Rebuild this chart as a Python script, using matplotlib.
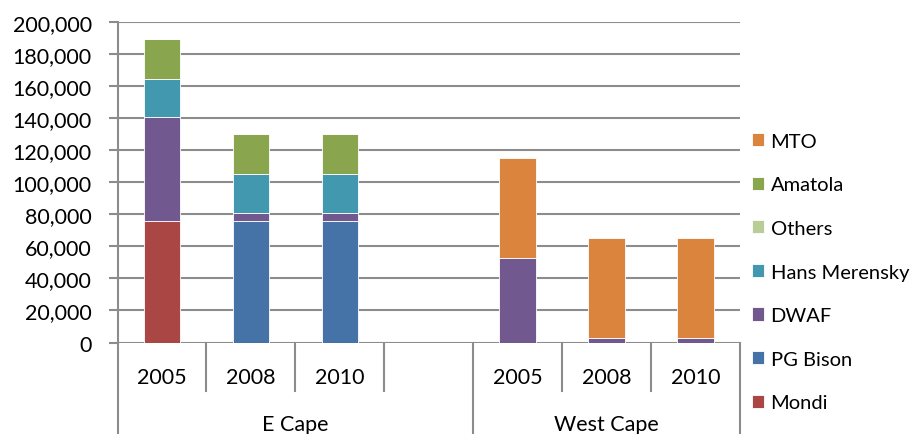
import matplotlib
matplotlib.use("Agg")
import matplotlib.pyplot as plt
import matplotlib.transforms as mtransforms
from matplotlib.ticker import FuncFormatter

plt.rcParams['font.family'] = ['Lato', 'DejaVu Sans']

years = ["2005", "2008", "2010", "", "2005", "2008", "2010"]
groups = ["E Cape", "West Cape"]
series_names = ["Mondi", "PG Bison", "DWAF", "Hans Merensky", "Others", "Amatola", "MTO"]
mondi = [76000, 0, 0, 0, 0, 0, 0]
pg_bison = [0, 76000, 76000, 0, 0, 0, 0]
dwaf = [65000, 5000, 5000, 0, 53000, 3000, 3000]
hans_merensky = [23500, 24000, 24000, 0, 0, 0, 0]
others = [0, 0, 0, 0, 0, 0, 0]
amatola = [25000, 25000, 25000, 0, 0, 0, 0]
mto = [0, 0, 0, 0, 62000, 62000, 62000]
series = [mondi, pg_bison, dwaf, hans_merensky, others, amatola, mto]
colors = ["#AA4643", "#4572A7", "#71588F", "#4198AF", "#B9CD96", "#89A54E", "#DB843D"]

W, H = 914, 435
fig = plt.figure(figsize=(W / 100, H / 100), dpi=100)
ax = fig.add_axes([117.5 / W, 1 - 343.5 / H, (740 - 117.5) / W, (343.5 - 23) / H])

x = list(range(len(years)))
bottom = [0] * len(years)
handles = []
for name, vals, c in zip(series_names, series, colors):
    b = ax.bar(x, vals, width=0.41, bottom=bottom, color=c, edgecolor="white",
               linewidth=0.6, label=name, zorder=3)
    handles.append(b)
    bottom = [bb + v for bb, v in zip(bottom, vals)]

ax.set_xlim(-0.5, len(years) - 0.5)
ax.set_ylim(0, 200000)
ax.set_yticks(range(0, 200001, 20000))
ax.yaxis.set_major_formatter(FuncFormatter(lambda v, p: f"{int(v):,}"))
ax.tick_params(axis='y', length=6.5, width=1.5, color="#8c8c8c", pad=12,
               labelsize=15.5, labelcolor="black")
ax.set_xticks([])
ax.grid(axis='y', color="#8c8c8c", linewidth=1.5, zorder=0)
for s in ["top", "right", "bottom"]:
    ax.spines[s].set_visible(False)
ax.spines["left"].set_color("#8c8c8c")
ax.spines["left"].set_linewidth(1.5)

# multi-level category axis
trans = mtransforms.blended_transform_factory(ax.transData, fig.transFigure)
y_axis = 1 - 343.5 / H
y_year_end = 1 - 392 / H
y_year_text = 1 - 378 / H
y_group_text = 1 - 425 / H
for i in range(len(years) + 1):
    xb = i - 0.5
    yend = 0.0 if i in (0, 4, 7) else y_year_end
    ax.plot([xb, xb], [y_axis, yend], transform=trans, color="#8c8c8c",
            linewidth=1.5, clip_on=False)
for i, yr in enumerate(years):
    ax.text(i, y_year_text, yr, transform=trans, ha="center", va="center", fontsize=15.5)
ax.text(1.5, y_group_text, groups[0], transform=trans, ha="center", va="center", fontsize=15.5)
ax.text(5, y_group_text, groups[1], transform=trans, ha="center", va="center", fontsize=15.5)

leg = ax.legend(handles[::-1], series_names[::-1], loc="center left",
                bbox_to_anchor=(752 / W, 1 - 273 / H), bbox_transform=fig.transFigure,
                frameon=False, fontsize=14.5, handlelength=0.62, handleheight=0.62,
                handletextpad=0.3, labelspacing=1.32, borderaxespad=0, borderpad=0)

fig.savefig("out.png", dpi=100)
